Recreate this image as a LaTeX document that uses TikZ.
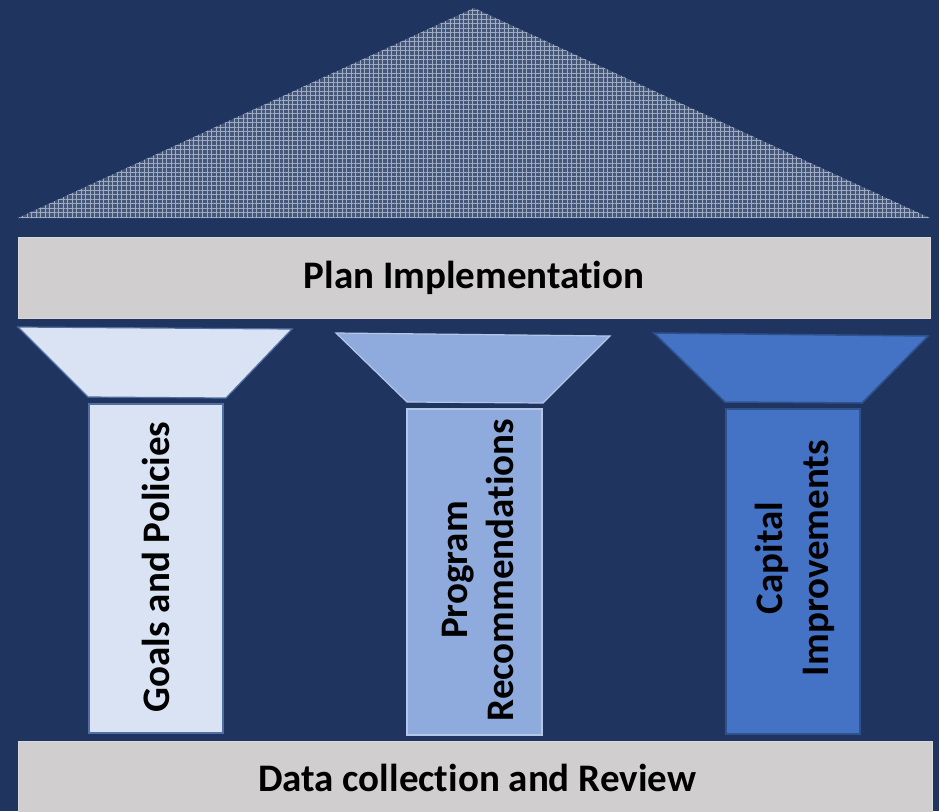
\documentclass[tikz,border=0pt]{standalone}
\usepackage{fontspec}
\setmainfont{Carlito}[Ligatures=NoCommon]
\usetikzlibrary{patterns.meta}
\definecolor{bgblue}{RGB}{31,53,96}
\definecolor{roofblue}{RGB}{70,88,122}
\definecolor{roofgrid}{RGB}{160,172,195}
\definecolor{bargray}{RGB}{208,206,206}
\definecolor{paleblue}{RGB}{218,227,243}
\definecolor{midblue}{RGB}{143,170,220}
\definecolor{deepblue}{RGB}{68,114,196}
\definecolor{edgedark}{RGB}{47,82,143}
\definecolor{edgelight}{RGB}{180,199,231}

\begin{document}
\begin{tikzpicture}[x=1pt,y=-1pt,
  word/.style={font=\fontsize{39}{46}\selectfont\bfseries, text=black, align=center, inner sep=0pt},
  bar/.style={fill=bargray, draw=bargray!80!white, line width=0.6pt},
  pale/.style={fill=paleblue, draw=edgedark!80!paleblue, line width=1.2pt},
  mid/.style={fill=midblue, draw=edgelight, line width=1.2pt},
  deep/.style={fill=deepblue, draw=edgedark, line width=1.5pt}]
%
\fill[bgblue] (0,0) rectangle (939,811);
\useasboundingbox (0,0) rectangle (939,811);
%
\fill[roofblue] (18,218) -- (474,8) -- (930,218) -- cycle;
\fill[pattern={Hatch[distance=4.5pt,line width=0.7pt]}, pattern color=roofgrid]
  (18,218) -- (474,8) -- (930,218) -- cycle;
%
\draw[bar] (18,237) rectangle (930,318);
\node[word] (plan) at (474,278) {Plan Implementation};
%
\draw[pale] (18,327) -- (292,329) -- (226,398) -- (88,397) -- cycle;
\draw[pale] (89,404) rectangle (223,733);
\node[word, rotate=90] (goals) at (156,567) {Goals and Policies};
%
\draw[mid] (336,333) -- (610,336) -- (543,403) -- (407,402) -- cycle;
\draw[mid] (407,409) rectangle (542,735);
\node[word, rotate=90] (program) at (478,570) {Program\\Recommendations};
%
\draw[deep] (654,333) -- (928,336) -- (862,403) -- (725,402) -- cycle;
\draw[deep] (726,409) rectangle (860,734);
\node[word, rotate=90] (capital) at (795,558) {Capital\\Improvements};
%
\draw[bar] (18,741) rectangle (932,815);
\node[word] (data) at (477,778) {Data collection and Review};
%
\end{tikzpicture}
\end{document}
